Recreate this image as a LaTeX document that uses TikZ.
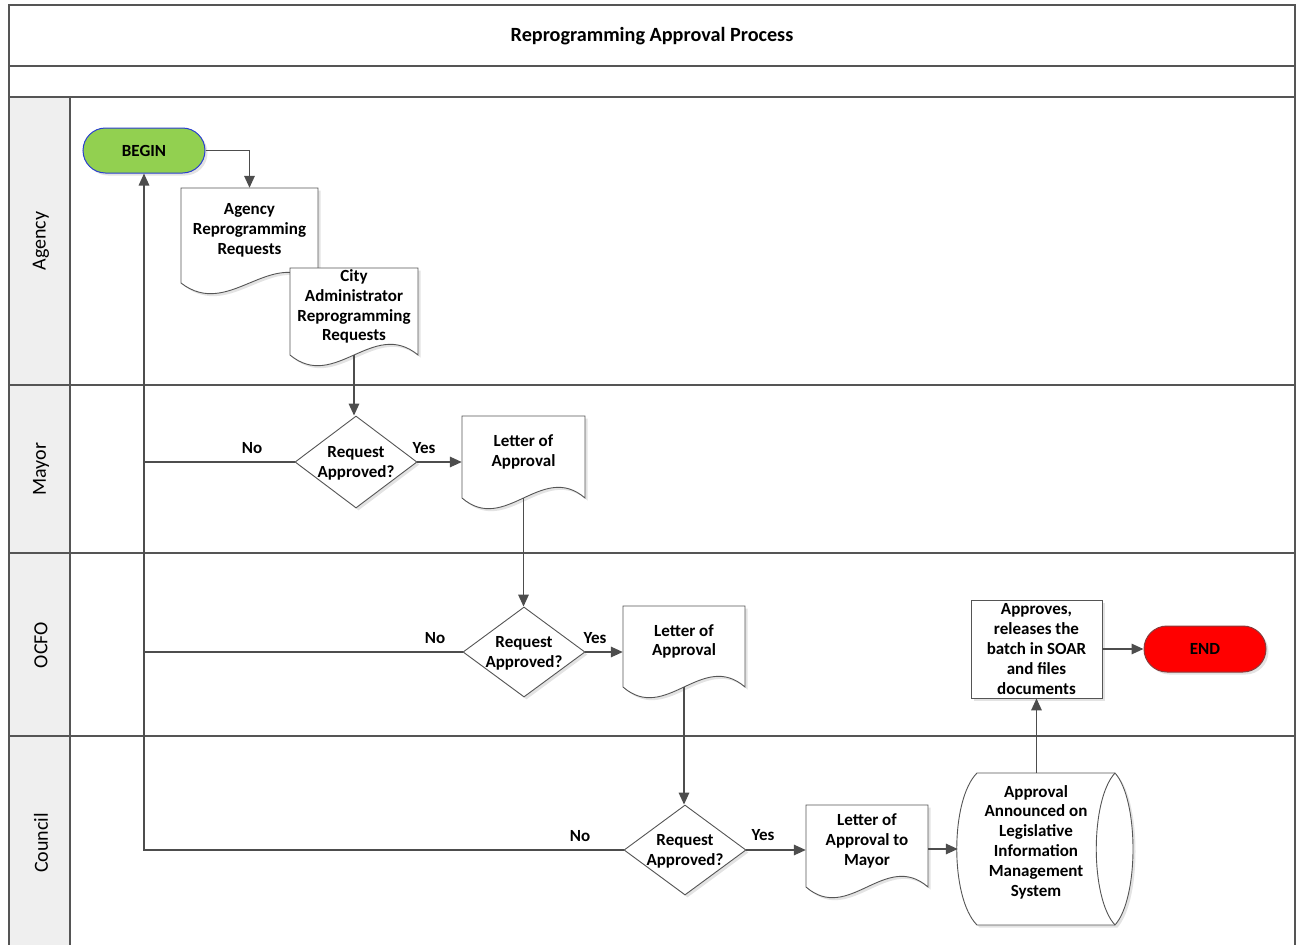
\documentclass[tikz,border=0pt]{standalone}
\usepackage{fontspec}
\setmainfont{Carlito}
\usetikzlibrary{shapes.geometric,shapes.misc,arrows.meta,calc,shadows}
\definecolor{lineC}{HTML}{4D4D4D}
\definecolor{shapeC}{HTML}{555555}
\definecolor{laneFill}{HTML}{EFEFEF}
\definecolor{beginFill}{HTML}{92D050}
\definecolor{beginLine}{HTML}{2A3FD0}
\definecolor{endFill}{HTML}{FF0000}
\definecolor{endLine}{HTML}{8B3A3A}
\tikzset{
  frameline/.style={draw=shapeC, line width=1.6pt},
  conn/.style={draw=lineC, line width=1.6pt},
  arr/.style={conn, -{Triangle[length=12pt,width=10.5pt]}},
  shp/.style={draw=shapeC, line width=0.9pt, fill=white},
  shd/.style={drop shadow={shadow xshift=2.5pt, shadow yshift=-2.5pt, fill=black!22}},
  txt/.style={font=\bfseries\fontsize{17}{19.8}\selectfont, align=center, inner sep=0pt},
  docn/.style={rectangle, txt},
  lanelbl/.style={font=\fontsize{20}{24}\selectfont, inner sep=0pt, rotate=90},
  decision/.style={diamond, shp, shd, minimum width=122pt, inner sep=0pt},
  terminal/.style={rounded rectangle, txt, line width=1pt, minimum width=122pt, minimum height=45pt, shd},
}
% name, cx, cy, width, height (top to corner minus 10), text
\newcommand\docat[6]{%
  \filldraw[shp,shd] ({#2-#4/2},{#3-#5/2}) -- ({#2+#4/2},{#3-#5/2}) -- ({#2+#4/2},{#3+#5/2+10})
    .. controls ({#2+0.15*#4},{#3+#5/2+10-37}) and ({#2-0.15*#4},{#3+#5/2+10+37}) .. ({#2-#4/2},{#3+#5/2+10}) -- cycle;
  \node[docn, minimum width=#4pt, minimum height=#5pt] (#1) at (#2,#3) {#6};
  \coordinate (#1-b) at ($(#1.south)+(0,10)$);
}
\begin{document}
\begin{tikzpicture}[x=1pt,y=-1pt]
\useasboundingbox (0,0) rectangle (1296,945);
% frame and lanes
\fill[laneFill] (9,97) rectangle (70,945);
\draw[frameline] (9,945) -- (9,5) -- (1295,5) -- (1295,945);
\draw[frameline] (9,66) -- (1295,66);
\draw[frameline] (9,97) -- (1295,97);
\draw[frameline] (9,385) -- (1295,385);
\draw[frameline] (9,553) -- (1295,553);
\draw[frameline] (9,736) -- (1295,736);
\draw[frameline] (70,97) -- (70,945);
\node[font=\bfseries\fontsize{20.2}{24}\selectfont, inner sep=0pt] (title) at (652,36) {Reprogramming Approval Process};
\node[lanelbl] (lagency) at (41,241) {Agency};
\node[lanelbl] (lmayor) at (41,469) {Mayor};
\node[lanelbl] (locfo) at (41,645) {OCFO};
\node[lanelbl] (lcouncil) at (41,843) {Council};

% terminals
\node[terminal, draw=beginLine, fill=beginFill] (begin) at (144,150.5) {BEGIN};
\node[terminal, draw=endLine, fill=endFill, minimum height=46pt] (end) at (1205,649) {END};

% documents
\docat{agency}{249.5}{230.5}{137}{85}{Agency\\Reprogramming\\Requests}
\docat{city}{354}{306.5}{128}{77}{City\\Administrator\\Reprogramming\\Requests}
\docat{doc1}{523.5}{452}{123}{72}{Letter of\\Approval}
\docat{doc2}{684}{641.5}{122}{71}{Letter of\\Approval}
\docat{doc3}{867}{841}{122}{72}{Letter of\\Approval to\\Mayor}

% decisions
\node[decision, minimum height=92pt] (dia1) at (356,462) {};
\node[txt] (dia1t) at (356,463) {Request\\Approved?};
\node[decision, minimum height=90pt] (dia2) at (524,652) {};
\node[txt] (dia2t) at (524,653) {Request\\Approved?};
\node[decision, minimum height=90pt] (dia3) at (685,850) {};
\node[txt] (dia3t) at (685,851) {Request\\Approved?};

% storage
\filldraw[shp,shd] (977,773) -- (1115,773) .. controls (1139,800) and (1139,898) .. (1115,925) -- (977,925) .. controls (950,898) and (950,800) .. (977,773) -- cycle;
\draw[shp] (1115,773) .. controls (1090,800) and (1090,898) .. (1115,925);
\node[rectangle, minimum width=175pt, minimum height=152pt, inner sep=0pt] (lims) at (1045.5,849) {};
\node[txt] (limst) at (1036,842) {Approval\\Announced on\\Legislative\\Information\\Management\\System};

% process box
\node[rectangle, shp, shd, txt, minimum width=131pt, minimum height=98pt] (rel) at (1036.5,649) {Approves,\\releases the\\batch in SOAR\\and files\\documents};

% connectors
\draw[arr] (begin.east) -| (agency.north);
\draw[arr] (city-b) -- (city-b |- dia1.north);
\draw[arr] (dia1.east) -- (dia1.east -| doc1.west);
\draw[arr] (doc1-b) -- (doc1-b |- dia2.north);
\draw[arr] (dia2.east) -- (dia2.east -| doc2.west);
\draw[arr] (doc2-b) -- (doc2-b |- dia3.north);
\draw[arr] (dia3.east) -- (dia3.east -| doc3.west);
\draw[arr] (lims.west -| doc3.east) -- (lims.west);
\draw[arr] (rel.south |- lims.north) -- (rel.south);
\draw[arr] (rel.east) -- (end.west);
\draw[conn] (dia1.west) -- (dia1.west -| begin.south);
\draw[conn] (dia2.west) -- (dia2.west -| begin.south);
\draw[arr] (dia3.west) -| (begin.south);

% labels
\node[txt] (no1) at (252,448) {No};
\node[txt] (yes1) at (424,448) {Yes};
\node[txt] (no2) at (435,638) {No};
\node[txt] (yes2) at (595,638) {Yes};
\node[txt] (no3) at (580,836) {No};
\node[txt] (yes3) at (763,835) {Yes};
\end{tikzpicture}
\end{document}
